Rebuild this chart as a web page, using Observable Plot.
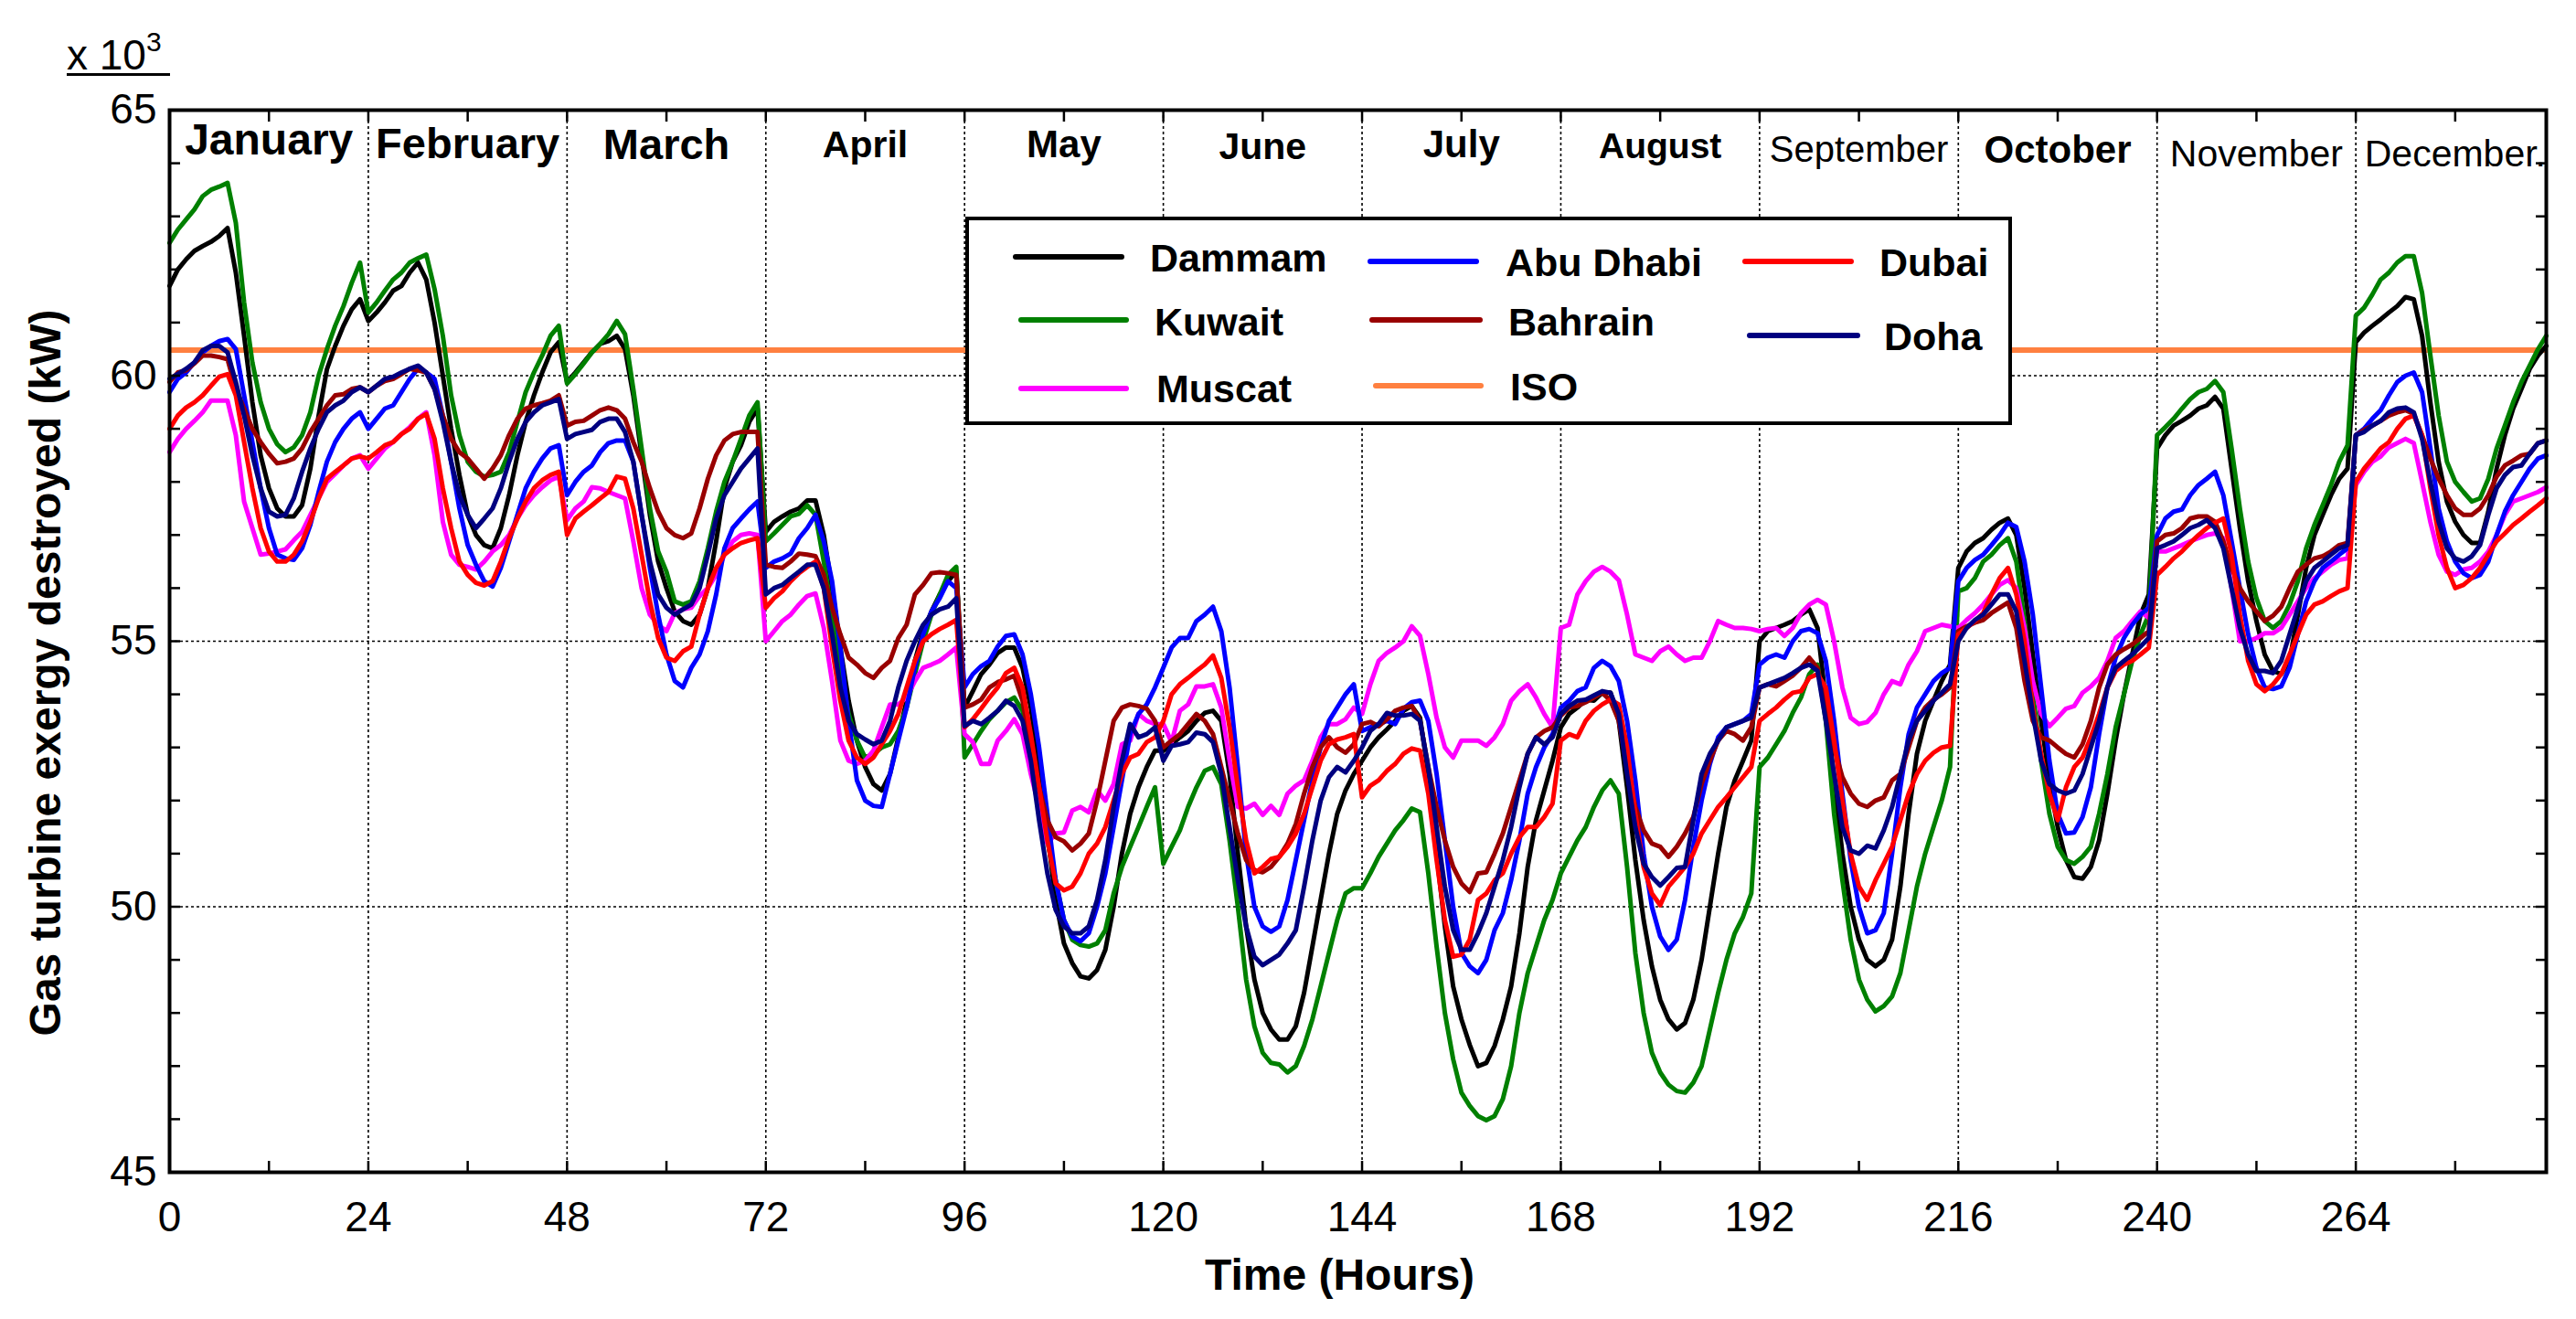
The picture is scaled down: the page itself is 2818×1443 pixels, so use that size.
<!DOCTYPE html>
<html>
<head>
<meta charset="utf-8">
<script src="https://cdn.jsdelivr.net/npm/d3@7"></script>
<script src="https://cdn.jsdelivr.net/npm/@observablehq/plot@0.6"></script>
<style>
html, body { margin: 0; padding: 0; background: #fff; }
#wrap { position: relative; width: 2818px; height: 1443px; font-family: "Liberation Sans", Arial, Helvetica, sans-serif; color: #000; overflow: hidden; }
#chart { position: absolute; left: 0; top: 0; }
#mult { position: absolute; left: 73px; top: 20px; width: 113px; height: 60px; line-height: 60px; font-size: 46px; border-bottom: 3px solid #000; white-space: nowrap; }
#mult sup { font-size: 30px; position: relative; top: -4px; }
#ytitle { position: absolute; left: 50px; top: 736px; transform: translate(-50%, -50%) rotate(-90deg); font-size: 48px; font-weight: bold; white-space: nowrap; line-height: 1; }
#legend { position: absolute; left: 1056px; top: 237px; width: 1145px; height: 228px; box-sizing: border-box; border: 4px solid #000; background: #fff; }
#legend .ln { position: absolute; height: 6px; border-radius: 3px; }
#legend .tx { position: absolute; font-size: 43px; font-weight: bold; line-height: 1; transform: translateY(-50%); white-space: nowrap; }
</style>
</head>
<body>
<div id="wrap">
  <div id="chart"></div>
  <div id="mult">x 10<sup>3</sup></div>
  <div id="ytitle"></div>
  <div id="legend"></div>
</div>
<script>
// ---------------- DATA ----------------
const hours = d3.range(0, 288);
const monthLabels = ["January","February","March","April","May","June","July","August","September","October","November","December."];
const xTickLabels = [0,24,48,72,96,120,144,168,192,216,240,264];
const yTickLabels = [45,50,55,60,65];
const isoValue = 60.48;
const xTitle = "Time (Hours)";
const yTitle = "Gas turbine exergy destroyed (kW)";

const dammam = [
 61.69,62.0,62.19,62.35,62.44,62.52,62.63,62.78,61.94,60.75,59.5,58.5,57.88,57.5,57.35,57.35,57.56,58.25,59.25,60.12,60.56,60.94,61.25,61.44,
 61.03,61.19,61.38,61.6,61.69,61.94,62.13,61.81,61.0,60.0,59.0,58.13,57.38,57.0,56.81,56.75,57.13,57.75,58.5,59.13,59.63,60.06,60.44,60.63,
 59.88,60.06,60.25,60.44,60.6,60.65,60.75,60.5,59.63,58.5,57.38,56.5,56.0,55.56,55.38,55.31,55.5,56.0,56.88,57.88,58.38,58.69,59.13,59.38,
 57.06,57.25,57.35,57.44,57.5,57.65,57.65,57.0,56.0,54.88,53.88,53.13,52.63,52.31,52.19,52.5,53.19,53.88,54.63,55.19,55.56,55.88,56.13,56.31,
 53.75,54.06,54.38,54.56,54.78,54.88,54.88,54.5,53.75,52.63,51.38,50.13,49.31,48.94,48.69,48.65,48.81,49.19,50.0,51.0,51.75,52.25,52.63,52.94,
 52.94,53.06,53.19,53.31,53.5,53.65,53.69,53.5,52.5,51.0,49.63,48.63,48.0,47.69,47.5,47.5,47.75,48.38,49.25,50.13,51.0,51.75,52.19,52.5,
 52.75,53.0,53.19,53.34,53.5,53.69,53.78,53.56,52.5,51.0,49.63,48.5,47.88,47.4,47.0,47.06,47.38,47.88,48.5,49.5,50.75,51.63,52.19,52.75,
 53.38,53.63,53.75,53.9,53.88,54.03,54.03,53.5,52.25,50.88,49.75,48.88,48.25,47.88,47.69,47.81,48.25,49.0,50.0,51.0,51.88,52.38,52.75,53.13,
 55.0,55.19,55.25,55.31,55.38,55.5,55.6,55.25,53.88,52.38,51.0,50.0,49.38,49.0,48.88,49.0,49.38,50.38,51.75,52.88,53.5,53.88,54.25,54.56,
 56.38,56.69,56.85,56.94,57.1,57.23,57.31,57.0,56.0,54.75,53.5,52.38,51.5,50.88,50.56,50.53,50.75,51.25,52.13,53.13,54.0,54.75,55.5,55.88,
 58.63,58.88,59.06,59.15,59.25,59.38,59.44,59.6,59.38,58.25,57.13,56.13,55.38,54.75,54.44,54.38,54.63,55.5,56.38,57.0,57.38,57.75,58.06,58.25,
 60.63,60.81,60.94,61.06,61.19,61.31,61.48,61.44,60.75,59.5,58.38,57.63,57.25,57.0,56.85,56.85,57.44,58.25,58.88,59.38,59.75,60.13,60.38,60.56
];
const kuwait = [
 62.5,62.75,62.94,63.13,63.38,63.5,63.56,63.63,62.88,61.38,60.25,59.5,59.0,58.71,58.56,58.65,58.88,59.31,60.0,60.5,60.94,61.31,61.75,62.13,
 61.19,61.38,61.6,61.81,61.94,62.13,62.21,62.28,61.63,60.75,59.63,58.88,58.38,58.19,58.1,58.13,58.19,58.56,59.13,59.69,60.06,60.38,60.75,60.94,
 59.85,60.03,60.23,60.44,60.6,60.78,61.03,60.78,59.75,58.63,57.5,56.69,56.31,55.75,55.69,55.75,56.13,56.75,57.44,58.0,58.38,58.81,59.25,59.5,
 56.88,57.03,57.19,57.35,57.4,57.56,57.38,56.5,55.5,54.5,53.63,53.13,52.81,52.88,53.0,53.06,53.31,53.75,54.38,55.0,55.5,55.88,56.25,56.4,
 52.81,53.06,53.31,53.53,53.69,53.85,53.94,53.69,52.88,52.0,51.25,50.5,49.75,49.38,49.28,49.25,49.31,49.56,50.25,50.75,51.13,51.5,51.88,52.25,
 50.81,51.13,51.44,51.88,52.25,52.56,52.63,52.31,51.25,50.0,48.63,47.75,47.25,47.06,47.03,46.88,47.0,47.38,47.88,48.5,49.13,49.75,50.25,50.35,
 50.35,50.63,50.94,51.19,51.44,51.63,51.85,51.78,50.63,49.25,48.0,47.13,46.5,46.25,46.06,45.98,46.06,46.38,47.0,48.0,48.75,49.25,49.75,50.13,
 50.63,50.94,51.25,51.5,51.88,52.19,52.38,52.13,50.75,49.13,48.0,47.25,46.88,46.65,46.53,46.5,46.69,47.0,47.69,48.38,49.0,49.5,49.81,50.25,
 52.63,52.81,53.06,53.31,53.65,53.94,54.38,54.56,53.5,51.75,50.5,49.38,48.63,48.25,48.03,48.13,48.31,48.75,49.56,50.38,51.0,51.5,52.0,52.63,
 55.94,56.0,56.19,56.5,56.63,56.81,56.94,56.5,55.38,54.0,52.75,51.75,51.13,50.88,50.81,50.94,51.13,51.75,52.5,53.38,54.0,54.63,55.13,55.5,
 58.88,59.03,59.19,59.38,59.56,59.69,59.75,59.9,59.69,58.63,57.5,56.5,55.81,55.38,55.25,55.38,55.69,56.13,56.75,57.19,57.56,57.94,58.38,58.69,
 61.13,61.28,61.53,61.81,61.94,62.13,62.25,62.25,61.56,60.38,59.25,58.38,58.0,57.81,57.63,57.69,58.06,58.63,59.06,59.5,59.88,60.19,60.5,60.75
];
const muscat = [
 58.56,58.81,59.0,59.15,59.31,59.53,59.53,59.53,58.88,57.63,57.13,56.63,56.65,56.69,56.73,56.9,57.06,57.38,57.69,58.0,58.15,58.31,58.44,58.5,
 58.25,58.44,58.63,58.75,58.9,59.03,59.19,59.31,58.5,57.25,56.63,56.44,56.4,56.35,56.5,56.69,56.81,57.0,57.31,57.56,57.75,57.9,58.03,58.1,
 57.28,57.5,57.63,57.9,57.88,57.81,57.75,57.69,56.88,56.0,55.5,55.31,55.19,55.53,55.6,55.63,55.85,56.0,56.25,56.63,56.88,57.0,57.03,57.0,
 55.0,55.19,55.38,55.5,55.69,55.85,55.9,55.25,54.25,53.13,52.75,52.69,52.75,52.94,53.38,53.81,53.81,53.94,54.25,54.5,54.56,54.63,54.75,54.88,
 53.25,53.1,52.69,52.69,53.13,53.31,53.53,53.25,52.5,51.88,51.19,51.38,51.4,51.81,51.88,51.78,52.19,52.0,52.31,53.06,53.13,53.63,53.5,53.44,
 53.44,53.1,53.69,53.81,54.15,54.15,54.19,53.75,52.75,51.88,51.85,51.94,51.73,51.9,51.73,52.13,52.28,52.38,52.75,53.19,53.44,53.44,53.53,53.75,
 53.63,54.19,54.63,54.78,54.88,55.0,55.28,55.1,54.38,53.56,53.0,52.81,53.13,53.13,53.13,53.03,53.19,53.44,53.88,54.06,54.19,53.94,53.63,53.38,
 55.25,55.31,55.88,56.13,56.31,56.4,56.31,56.15,55.5,54.75,54.69,54.63,54.81,54.9,54.75,54.63,54.69,54.69,55.0,55.38,55.31,55.25,55.25,55.23,
 55.19,55.23,55.25,55.1,55.25,55.53,55.69,55.78,55.69,55.0,54.13,53.56,53.44,53.48,53.65,54.0,54.25,54.19,54.56,54.81,55.19,55.25,55.31,55.28,
 55.25,55.4,55.53,55.69,55.88,56.06,56.15,56.0,55.25,54.25,53.63,53.4,53.56,53.73,53.78,54.03,54.15,54.31,54.63,55.06,55.19,55.38,55.56,55.44,
 56.69,56.69,56.75,56.81,56.88,56.94,57.0,57.03,56.94,56.0,55.0,55.0,55.06,55.15,55.15,55.25,55.5,55.75,56.0,56.19,56.31,56.44,56.53,56.56,
 57.94,58.19,58.38,58.48,58.65,58.73,58.81,58.73,58.0,57.25,56.63,56.31,56.25,56.35,56.38,56.5,56.69,57.0,57.38,57.63,57.69,57.75,57.81,57.9
];
const abuDhabi = [
 59.69,59.94,60.06,60.25,60.44,60.56,60.65,60.69,60.5,59.63,58.75,57.88,57.13,56.63,56.56,56.53,56.75,57.19,57.81,58.38,58.75,59.0,59.19,59.31,
 59.0,59.19,59.38,59.44,59.69,59.94,60.13,60.06,59.94,59.25,58.38,57.5,56.81,56.44,56.13,56.03,56.38,56.88,57.38,57.88,58.19,58.44,58.63,58.69,
 57.75,58.0,58.19,58.31,58.56,58.73,58.78,58.78,58.38,57.38,56.38,55.5,54.75,54.25,54.13,54.5,54.75,55.19,55.88,56.75,57.13,57.31,57.48,57.63,
 56.38,56.5,56.56,56.65,56.94,57.13,57.38,56.88,56.13,54.88,53.5,52.38,52.0,51.9,51.88,52.5,53.13,53.75,54.5,55.13,55.56,55.81,56.13,56.0,
 54.13,54.38,54.53,54.63,54.9,55.1,55.13,54.75,54.0,53.0,51.75,50.5,49.75,49.44,49.35,49.5,50.0,50.63,51.5,52.38,53.25,53.63,53.81,54.13,
 54.5,54.88,55.06,55.06,55.38,55.5,55.65,55.19,54.13,52.63,51.0,50.0,49.63,49.53,49.63,50.13,50.88,51.63,52.38,53.0,53.5,53.75,54.0,54.19,
 53.31,53.38,53.44,53.5,53.44,53.73,53.85,53.88,53.5,52.5,51.25,50.0,49.13,48.88,48.75,49.0,49.56,49.88,50.5,51.25,52.13,52.63,53.0,53.25,
 53.75,53.88,54.06,54.13,54.5,54.63,54.53,54.25,53.5,52.38,51.0,50.0,49.44,49.19,49.38,50.13,51.13,52.0,52.69,53.19,53.38,53.44,53.5,53.63,
 54.56,54.69,54.75,54.69,55.0,55.19,55.23,55.15,54.63,53.5,52.13,50.88,50.0,49.5,49.56,49.88,51.0,52.25,53.25,53.75,54.0,54.25,54.4,54.5,
 56.13,56.38,56.53,56.63,56.81,57.0,57.23,57.15,56.5,55.5,54.13,52.75,51.75,51.38,51.4,51.69,52.25,53.25,54.13,54.69,55.06,55.31,55.5,55.63,
 57.0,57.31,57.44,57.48,57.75,57.94,58.06,58.19,57.75,56.88,56.0,55.13,54.5,54.13,54.1,54.15,54.5,55.13,55.75,56.13,56.38,56.5,56.63,56.75,
 58.88,59.0,59.19,59.35,59.63,59.88,60.0,60.06,59.69,58.63,57.5,56.88,56.5,56.28,56.19,56.25,56.5,57.0,57.44,57.75,58.0,58.25,58.44,58.5
];
const bahrain = [
 59.88,60.06,60.1,60.23,60.38,60.38,60.35,60.31,59.75,59.38,59.0,58.75,58.53,58.35,58.38,58.44,58.63,58.94,59.19,59.44,59.63,59.65,59.75,59.78,
 59.69,59.81,59.9,59.94,60.03,60.13,60.1,60.06,59.75,59.25,58.81,58.56,58.44,58.25,58.06,58.25,58.5,58.88,59.19,59.38,59.44,59.48,59.53,59.63,
 59.06,59.13,59.15,59.25,59.35,59.4,59.35,59.19,58.75,58.38,57.88,57.44,57.13,57.0,56.94,57.03,57.5,58.06,58.5,58.78,58.9,58.94,58.94,58.94,
 56.44,56.4,56.38,56.5,56.65,56.63,56.6,56.25,55.63,55.13,54.69,54.56,54.4,54.31,54.5,54.63,55.06,55.31,55.88,56.06,56.28,56.3,56.28,56.25,
 53.75,53.81,53.9,54.13,54.23,54.28,54.35,53.88,53.0,52.25,51.63,51.31,51.23,51.06,51.19,51.38,52.0,52.75,53.5,53.75,53.81,53.78,53.73,53.5,
 53.0,53.13,53.25,53.44,53.63,53.5,53.25,52.63,52.0,51.38,50.88,50.69,50.65,50.75,50.94,51.19,51.56,52.13,52.63,53.0,53.19,53.0,52.9,53.06,
 53.44,53.48,53.4,53.53,53.69,53.75,53.78,53.5,52.63,51.88,51.25,50.75,50.44,50.28,50.63,50.65,51.0,51.38,51.88,52.38,52.88,53.19,53.31,53.38,
 53.6,53.75,53.78,53.85,53.94,54.03,53.88,53.5,52.63,51.88,51.44,51.19,51.13,50.94,51.13,51.38,51.69,52.31,52.75,53.13,53.31,53.25,53.13,53.38,
 54.13,54.19,54.15,54.25,54.35,54.5,54.69,54.5,53.75,53.0,52.44,52.13,51.94,51.88,52.0,52.06,52.38,52.5,53.0,53.5,53.75,53.9,54.0,54.13,
 55.19,55.28,55.35,55.4,55.53,55.63,55.73,55.25,54.25,53.5,53.19,53.13,53.0,52.88,52.81,53.06,53.5,54.13,54.56,54.75,54.85,54.94,55.06,55.19,
 56.88,57.0,57.03,57.13,57.31,57.35,57.35,57.25,56.88,56.38,56.0,55.75,55.56,55.38,55.48,55.65,56.0,56.31,56.44,56.56,56.6,56.69,56.81,56.85,
 58.88,58.98,59.06,59.15,59.25,59.31,59.35,59.28,58.88,58.44,58.06,57.75,57.5,57.38,57.38,57.5,57.75,58.1,58.31,58.4,58.5,58.53,58.73,58.78
];
const dubai = [
 59.0,59.25,59.4,59.5,59.63,59.81,59.98,60.03,59.63,58.75,57.88,57.13,56.69,56.5,56.5,56.63,56.88,57.25,57.69,58.06,58.19,58.31,58.44,58.48,
 58.44,58.56,58.69,58.75,58.9,59.0,59.19,59.28,58.81,57.88,57.13,56.5,56.25,56.1,56.05,56.13,56.5,56.94,57.31,57.63,57.88,58.03,58.13,58.19,
 57.0,57.31,57.44,57.56,57.69,57.81,58.1,58.06,57.5,56.63,55.75,55.06,54.69,54.63,54.81,54.9,55.5,56.0,56.38,56.63,56.75,56.85,56.9,56.94,
 55.63,55.81,55.94,56.13,56.28,56.4,56.5,56.0,54.88,53.88,53.13,52.81,52.69,52.81,53.06,53.31,53.63,54.13,54.63,55.0,55.13,55.23,55.31,55.4,
 53.38,53.53,53.73,53.94,54.13,54.4,54.5,54.13,53.25,52.25,51.25,50.44,50.31,50.38,50.63,51.0,51.19,51.5,52.0,52.5,52.81,52.88,53.1,53.19,
 53.5,54.0,54.19,54.31,54.44,54.56,54.73,54.31,53.38,52.25,51.25,50.63,50.75,50.9,50.94,51.13,51.38,51.75,52.25,52.75,53.06,53.15,53.19,53.25,
 52.06,52.28,52.38,52.56,52.69,52.88,52.98,52.94,52.13,50.88,49.75,49.06,49.1,49.38,50.13,50.25,50.5,50.63,51.0,51.31,51.5,51.5,51.69,51.94,
 53.13,53.25,53.19,53.5,53.69,53.81,53.9,53.81,53.0,51.75,50.75,50.25,50.03,50.38,50.56,50.75,51.0,51.38,51.63,51.88,52.06,52.25,52.44,52.63,
 53.5,53.63,53.75,53.9,54.03,54.06,54.31,54.38,54.13,53.13,52.0,51.0,50.38,50.13,50.5,50.81,51.13,51.63,52.13,52.5,52.75,52.9,53.0,53.03,
 55.13,55.25,55.38,55.53,55.88,56.19,56.38,55.88,55.0,53.75,52.88,52.13,51.63,52.25,52.63,52.81,53.19,53.63,54.13,54.44,54.56,54.63,54.75,54.88,
 56.25,56.4,56.56,56.69,56.85,57.0,57.13,57.23,57.31,56.63,55.5,54.63,54.19,54.06,54.19,54.38,54.75,55.13,55.5,55.69,55.75,55.85,55.94,56.0,
 58.0,58.25,58.44,58.63,58.75,59.0,59.19,59.25,58.88,57.88,57.0,56.38,56.0,56.06,56.19,56.38,56.63,56.88,57.03,57.19,57.31,57.44,57.56,57.69
];
const doha = [
 59.94,60.03,60.13,60.25,60.48,60.56,60.56,60.44,59.88,59.25,58.5,57.88,57.44,57.35,57.38,57.69,58.19,58.63,59.0,59.31,59.44,59.53,59.69,59.78,
 59.69,59.81,59.94,59.98,60.06,60.13,60.19,60.06,59.75,59.13,58.38,57.75,57.38,57.13,57.31,57.5,57.88,58.38,58.81,59.13,59.31,59.44,59.5,59.56,
 58.81,58.9,58.94,58.98,59.13,59.19,59.19,58.94,58.38,57.38,56.5,55.88,55.63,55.5,55.6,55.69,56.0,56.63,57.31,57.75,58.0,58.25,58.44,58.63,
 55.88,56.0,56.06,56.19,56.31,56.44,56.44,56.0,55.13,54.13,53.5,53.25,53.15,53.06,53.13,53.5,54.13,54.63,55.0,55.31,55.5,55.6,55.65,55.81,
 53.4,53.5,53.44,53.56,53.69,53.88,53.78,53.5,52.75,51.63,50.63,49.94,49.63,49.5,49.5,49.63,50.13,50.88,51.88,52.75,53.44,53.19,53.25,53.38,
 52.75,53.03,53.06,53.1,53.28,53.25,53.1,52.5,51.5,50.5,49.63,49.06,48.9,49.0,49.1,49.31,49.56,50.38,51.25,52.0,52.44,52.63,52.53,52.75,
 53.0,53.31,53.44,53.65,53.6,53.6,53.63,53.5,52.63,51.5,50.38,49.56,49.19,49.19,49.5,49.88,50.38,50.88,51.5,52.25,52.88,53.19,53.06,53.19,
 53.63,53.78,53.88,53.9,53.98,54.06,54.03,53.63,52.5,51.5,50.81,50.56,50.4,50.56,50.73,50.75,51.63,52.5,52.88,53.13,53.38,53.44,53.5,53.56,
 54.13,54.19,54.25,54.31,54.4,54.5,54.56,54.44,53.5,52.5,51.5,51.06,51.0,51.15,51.1,51.44,51.88,52.5,53.13,53.5,53.69,53.88,54.03,54.19,
 55.0,55.25,55.4,55.5,55.69,55.88,55.88,55.56,54.63,53.63,52.75,52.31,52.19,52.13,52.19,52.5,53.0,53.5,54.13,54.5,54.63,54.75,54.9,55.06,
 56.75,56.81,56.88,57.0,57.13,57.19,57.28,57.13,56.75,56.0,55.25,54.75,54.44,54.44,54.4,54.63,55.13,55.63,56.13,56.38,56.5,56.63,56.75,56.81,
 58.88,58.94,59.06,59.15,59.31,59.38,59.4,59.31,58.81,58.0,57.25,56.75,56.56,56.5,56.6,56.81,57.38,57.88,58.13,58.28,58.31,58.53,58.73,58.78
];

const seriesNames = ["Dammam","Kuwait","Muscat","Abu Dhabi","Bahrain","Dubai","Doha"];
const seriesValues = [dammam, kuwait, muscat, abuDhabi, bahrain, dubai, doha];

// ---------------- STYLE ----------------
const seriesColors = {"Dammam":"#000000","Kuwait":"#008000","Muscat":"#ff00ff","Abu Dhabi":"#0000ff","Bahrain":"#990000","Dubai":"#ff0000","Doha":"#000080","ISO":"#ff8040"};
const monthStyle = [
  {size:48,weight:"bold",dy:33},{size:47,weight:"bold",dy:37},{size:47,weight:"bold",dy:38},
  {size:41,weight:"bold",dy:38},{size:42,weight:"bold",dy:38},{size:41,weight:"bold",dy:40},
  {size:42,weight:"bold",dy:38},{size:39,weight:"bold",dy:40},{size:40,weight:"normal",dy:44},
  {size:42,weight:"bold",dy:44},{size:41,weight:"normal",dy:48},{size:41,weight:"normal",dy:48}
];
const legendLayout = [ // relative to legend box (outer)
  {name:"Dammam", x1:52, x2:174, ly:44, tx:202, ty:45},
  {name:"Kuwait", x1:58, x2:179, ly:113, tx:207, ty:115},
  {name:"Muscat", x1:58, x2:179, ly:188, tx:209, ty:188},
  {name:"Abu Dhabi", x1:440, x2:562, ly:49, tx:591, ty:50},
  {name:"Bahrain", x1:442, x2:566, ly:113, tx:594, ty:115},
  {name:"ISO", x1:446, x2:567, ly:185, tx:596, ty:186},
  {name:"Dubai", x1:850, x2:972, ly:49, tx:1000, ty:50},
  {name:"Doha", x1:855, x2:979, ly:130, tx:1005, ty:131}
];

// ---------------- BUILD ----------------
const rows = seriesNames.flatMap((name, s) => seriesValues[s].map((v, i) => ({series: name, hour: hours[i], value: v})));

const gridStyle = {stroke: "#000", strokeOpacity: 1, strokeWidth: 1.6, strokeDasharray: "3,3"};

const chart = Plot.plot({
  width: 2818,
  height: 1443,
  marginLeft: 185,
  marginRight: 33,
  marginTop: 120,
  marginBottom: 161,
  style: {fontFamily: "'Liberation Sans', Arial, sans-serif", background: "#fff", color: "#000", overflow: "visible"},
  x: {domain: [0, 287]},
  y: {domain: [45, 65]},
  marks: [
    Plot.gridX(xTickLabels.slice(1), gridStyle),
    Plot.gridY([50, 55, 60], gridStyle),
    Plot.ruleY([isoValue], {stroke: seriesColors["ISO"], strokeWidth: 6}),
    ...seriesNames.map(name => Plot.line(rows.filter(r => r.series === name), {
      x: "hour", y: "value", stroke: seriesColors[name], strokeWidth: 5, strokeLinejoin: "round"
    })),
    Plot.axisX(d3.range(0, 288, 12), {anchor: "bottom", tickSize: -12, strokeWidth: 2.5, fill: "none", label: null}),
    Plot.axisX(d3.range(0, 288, 12), {anchor: "top", tickSize: -12, strokeWidth: 2.5, fill: "none", label: null}),
    Plot.axisX(xTickLabels, {anchor: "bottom", tickSize: 0, tickPadding: 32, fontSize: 46, label: null, tickFormat: d => String(d)}),
    Plot.axisY(d3.range(45, 66), {anchor: "left", tickSize: -12, strokeWidth: 2.5, fill: "none", label: null}),
    Plot.axisY(d3.range(45, 66), {anchor: "right", tickSize: -12, strokeWidth: 2.5, fill: "none", label: null}),
    Plot.axisY(yTickLabels, {anchor: "left", tickSize: 0, tickPadding: 14, fontSize: 46, label: null, tickFormat: d => String(d)}),
    Plot.frame({stroke: "#000", strokeWidth: 4}),
    ...monthLabels.map((m, i) => Plot.text([m], {
      x: () => i * 24 + 12, frameAnchor: "top", lineAnchor: "middle", dy: monthStyle[i].dy,
      fontSize: monthStyle[i].size, fontWeight: monthStyle[i].weight, fill: "#000"
    })),
    Plot.text([xTitle], {frameAnchor: "bottom", lineAnchor: "middle", dx: -20, dy: 113, fontSize: 48, fontWeight: "bold", fill: "#000"})
  ]
});
document.getElementById("chart").appendChild(chart);
document.getElementById("ytitle").textContent = yTitle;

// legend
const legend = document.getElementById("legend");
for (const item of legendLayout) {
  const ln = document.createElement("div");
  ln.className = "ln";
  ln.style.left = (item.x1 - 4) + "px";
  ln.style.width = (item.x2 - item.x1) + "px";
  ln.style.top = (item.ly - 4 - 3) + "px";
  ln.style.background = seriesColors[item.name];
  legend.appendChild(ln);
  const tx = document.createElement("div");
  tx.className = "tx";
  tx.style.left = (item.tx - 4) + "px";
  tx.style.top = (item.ty - 4) + "px";
  tx.textContent = item.name;
  legend.appendChild(tx);
}
</script>
</body>
</html>
